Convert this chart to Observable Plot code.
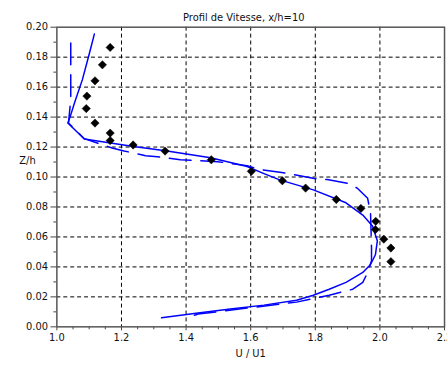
<!DOCTYPE html>
<html>
<head>
<meta charset="utf-8">
<script src="https://cdn.jsdelivr.net/npm/d3@7"></script>
<script src="https://cdn.jsdelivr.net/npm/@observablehq/plot@0.6"></script>
<style>
  html, body { margin: 0; padding: 0; background: #fff; overflow: hidden; width: 447px; height: 368px; }
  #chart svg { display: block; }
</style>
</head>
<body>
<div id="chart"></div>
<script>
const title = "Profil de Vitesse, x/h=10";
const xLabel = "U / U1";
const yLabel = "Z/h";

const xTicks = [1.0, 1.2, 1.4, 1.6, 1.8, 2.0, 2.2];
const xMinorTicks = [1.05, 1.1, 1.15, 1.25, 1.3, 1.35, 1.45, 1.5, 1.55, 1.65, 1.7, 1.75, 1.85, 1.9, 1.95, 2.05, 2.1, 2.15];
const yTicks = [0.00, 0.02, 0.04, 0.06, 0.08, 0.10, 0.12, 0.14, 0.16, 0.18, 0.20];
const yMinorTicks = [0.01, 0.03, 0.05, 0.07, 0.09, 0.11, 0.13, 0.15, 0.17, 0.19];

// Experimental points (diamonds)
const expU = [1.165, 1.141, 1.118, 1.093, 1.091, 1.118, 1.165, 1.165, 1.236, 1.335, 1.478, 1.602, 1.698, 1.770, 1.865, 1.941, 1.987, 1.986, 2.012, 2.034, 2.034];
const expZ = [0.1865, 0.1749, 0.1642, 0.1540, 0.1457, 0.1360, 0.1293, 0.1243, 0.1214, 0.1173, 0.1115, 0.1038, 0.0975, 0.0926, 0.0850, 0.0790, 0.0704, 0.0649, 0.0585, 0.0526, 0.0435];

// Solid simulated profile
const solidU = [1.116, 1.101, 1.079, 1.055, 1.042, 1.034, 1.085, 1.232, 1.336, 1.476, 1.589, 1.641, 1.690, 1.794, 1.895, 1.947, 1.977, 1.992, 1.986, 1.971, 1.947, 1.895, 1.843, 1.794, 1.742, 1.641, 1.537, 1.437, 1.324];
const solidZ = [0.1954, 0.1828, 0.1650, 0.1498, 0.1408, 0.1360, 0.1254, 0.1206, 0.1176, 0.1129, 0.1070, 0.1023, 0.0981, 0.0914, 0.0828, 0.0746, 0.0673, 0.0574, 0.0481, 0.0416, 0.0363, 0.0297, 0.0251, 0.0211, 0.0178, 0.0145, 0.0119, 0.0092, 0.0060];

// Dashed simulated profile
const dashU = [1.043, 1.043, 1.036, 1.085, 1.171, 1.208, 1.275, 1.311, 1.382, 1.498, 1.589, 1.629, 1.696, 1.733, 1.797, 1.837, 1.904, 1.931, 1.962, 1.971, 1.974, 1.974, 1.962, 1.947, 1.916, 1.843, 1.742, 1.589, 1.437, 1.400];
const dashZ = [0.1894, 0.1518, 0.1360, 0.1256, 0.1194, 0.1174, 0.1142, 0.1135, 0.1115, 0.1102, 0.1076, 0.1050, 0.1030, 0.1016, 0.0990, 0.0983, 0.0957, 0.0924, 0.0858, 0.0759, 0.0528, 0.0442, 0.0363, 0.0297, 0.0251, 0.0211, 0.0165, 0.0125, 0.0085, 0.0060];

const exp = expU.map((u, i) => ({u, z: expZ[i]}));
const solid = solidU.map((u, i) => ({u, z: solidZ[i]}));
const dashed = dashU.map((u, i) => ({u, z: dashZ[i]}));

const font = "DejaVu Sans, sans-serif";

const chart = Plot.plot({
  width: 452,
  height: 368,
  marginLeft: 57,
  marginRight: 3,
  marginTop: 27,
  marginBottom: 38,
  style: {fontFamily: font, fontSize: "10px", color: "#111", background: "#fff"},
  x: {domain: [1.0, 2.2]},
  y: {domain: [0, 0.20]},
  marks: [
    Plot.gridX(xTicks.slice(1, -1), {stroke: "#000", strokeOpacity: 1, strokeDasharray: "4,3"}),
    Plot.gridY(yTicks.slice(1, -1), {stroke: "#000", strokeOpacity: 1, strokeDasharray: "4,3"}),
    Plot.axisX(xTicks, {tickSize: 4, tickPadding: 3, tickFormat: d3.format(".1f"), label: xLabel, labelAnchor: "center", labelArrow: "none", labelOffset: 30, stroke: "#444"}),
    Plot.axisX(xMinorTicks, {tickSize: 3, text: null, label: null, stroke: "#444"}),
    Plot.axisY(yTicks, {tickSize: 6, tickPadding: 3, tickFormat: d3.format(".2f"), label: null, stroke: "#444"}),
    Plot.axisY(yMinorTicks, {tickSize: 3, text: null, label: null, stroke: "#444"}),
    Plot.frame({stroke: "#555", strokeWidth: 1.5}),
    Plot.line(dashed, {x: "u", y: "z", stroke: "#0000ff", strokeWidth: 1.5, strokeDasharray: "22,10"}),
    Plot.line(solid, {x: "u", y: "z", stroke: "#0000ff", strokeWidth: 1.5}),
    Plot.dot(exp, {x: "u", y: "z", symbol: "diamond2", r: 3.8, fill: "#000", stroke: "#000", strokeWidth: 0.5}),
    Plot.text([title], {frameAnchor: "top", dy: -13, dx: -7, fontSize: 10, fill: "#111"}),
    Plot.text([yLabel], {frameAnchor: "left", dx: -38, dy: -16, fontSize: 10, fill: "#111"})
  ]
});
document.getElementById("chart").appendChild(chart);
</script>
</body>
</html>
